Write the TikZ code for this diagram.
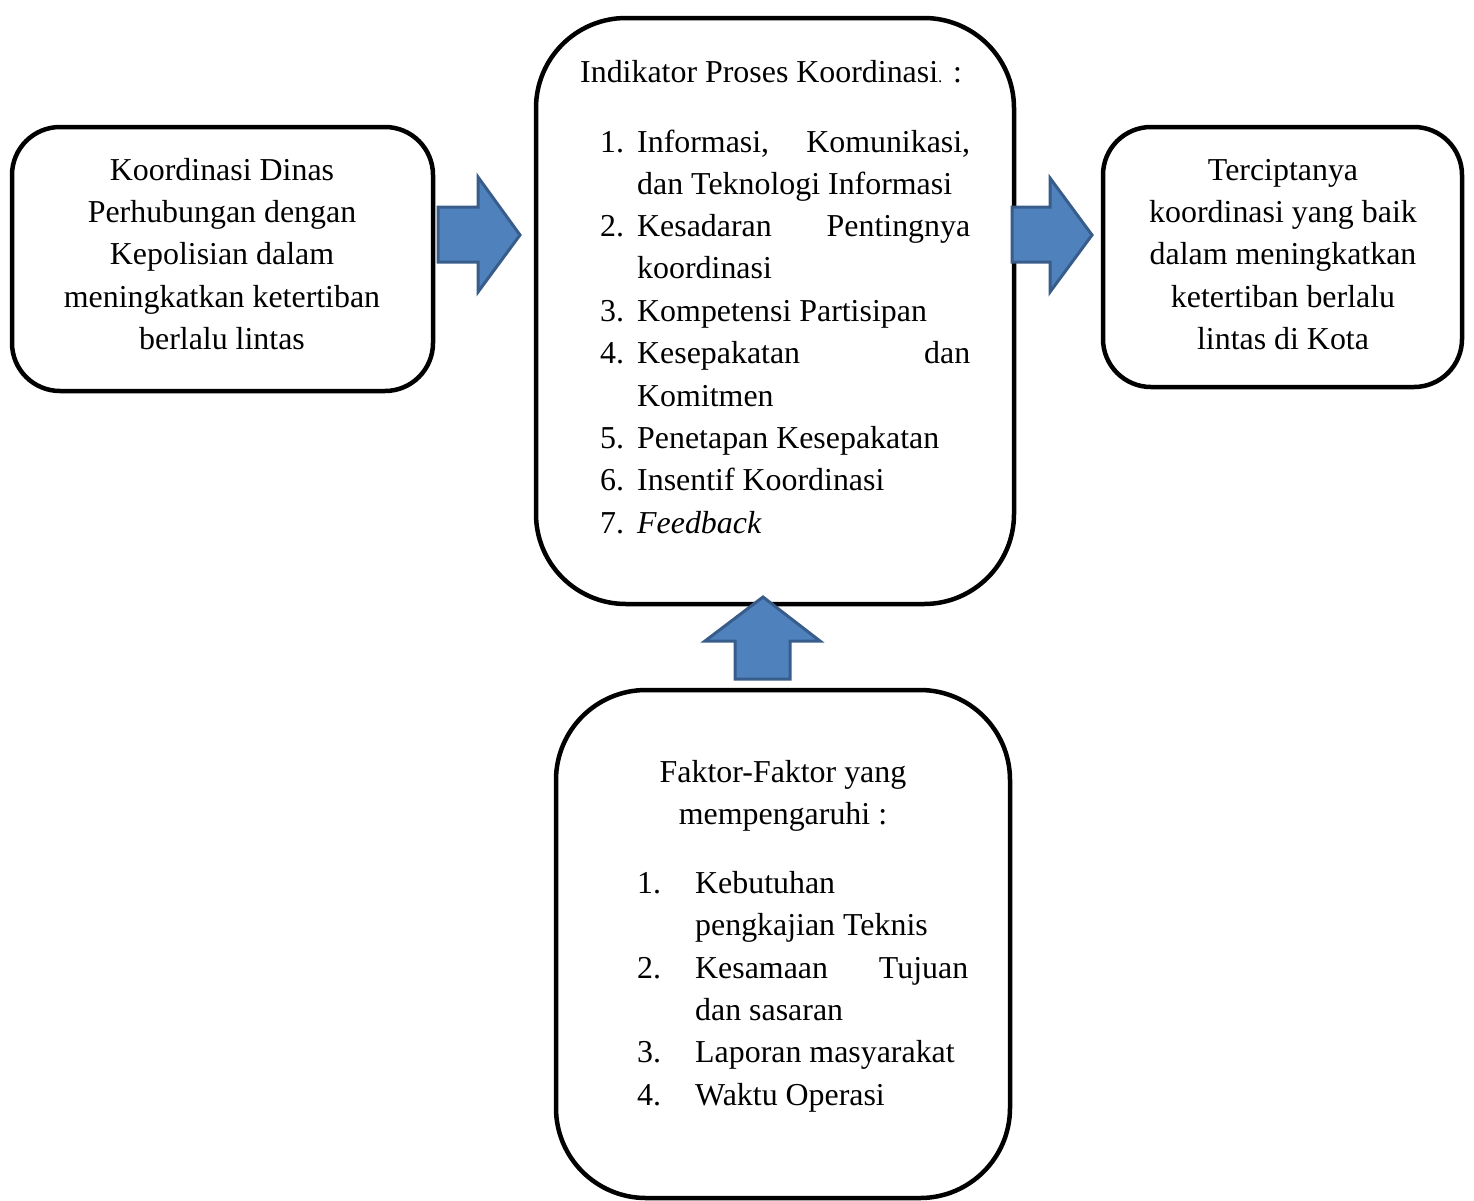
\documentclass[tikz,border=0pt]{standalone}
\usepackage{fontspec}
\setmainfont{Liberation Serif}
\begin{document}
\begin{tikzpicture}[x=1pt,y=-1pt,
  box/.style={draw=black,line width=4.5pt,inner sep=0pt,fill=white},
  txt/.style={inner sep=0pt,font=\fontsize{31.9}{42.3}\selectfont},
  blockarrow/.style={fill=arrowfill,draw=arrowline,line width=3pt,line join=miter}]
\definecolor{arrowfill}{HTML}{4F81BD}
\definecolor{arrowline}{HTML}{385D8A}
\useasboundingbox (0,0) rectangle (1474,1200);
% boxes
\node[box,rounded corners=48pt,minimum width=421pt,minimum height=264pt] (left) at (222.5,259) {};
\node[box,rounded corners=90pt,minimum width=478pt,minimum height=586pt] (mid) at (775,311) {};
\node[box,rounded corners=48pt,minimum width=359pt,minimum height=260pt] (right) at (1282.5,257) {};
\node[box,rounded corners=90pt,minimum width=454pt,minimum height=508pt] (bot) at (783,944) {};
% block arrows
\draw[blockarrow] (438,207) -- (478,207) -- (478,177) -- (520,235) -- (478,292) -- (478,262) -- (438,262) -- cycle;
\draw[blockarrow] (1012,207) -- (1050,207) -- (1050,178) -- (1092,235) -- (1050,292) -- (1050,262) -- (1012,262) -- cycle;
\draw[blockarrow] (735,679) -- (735,641) -- (705,641) -- (763,597) -- (820,641) -- (790,641) -- (790,679) -- cycle;
% left text
\node[txt,anchor=base] (l1) at (222,180) {Koordinasi Dinas};
\node[txt,anchor=base] (l2) at (222,222) {Perhubungan dengan};
\node[txt,anchor=base] (l3) at (222,264) {Kepolisian dalam};
\node[txt,anchor=base] (l4) at (222,307) {meningkatkan ketertiban};
\node[txt,anchor=base] (l5) at (222,349) {berlalu lintas};
% right text
\node[txt,anchor=base] (r1) at (1283,180) {Terciptanya};
\node[txt,anchor=base] (r2) at (1283,222) {koordinasi yang baik};
\node[txt,anchor=base] (r3) at (1283,264) {dalam meningkatkan};
\node[txt,anchor=base] (r4) at (1283,307) {ketertiban berlalu};
\node[txt,anchor=base] (r5) at (1283,349) {lintas di Kota};
% middle text
\node[txt,anchor=base west] (m0) at (580,82) {Indikator Proses Koordinasi{\fontsize{17}{17}\selectfont .} :};
\node[txt,anchor=base west] (n1) at (600,152) {1.};
\node[txt,anchor=base west] (m1) at (637,152) {\makebox[333pt][s]{Informasi,\hfill Komunikasi,}};
\node[txt,anchor=base west] (m1b) at (637,194) {dan Teknologi Informasi};
\node[txt,anchor=base west] (n2) at (600,236) {2.};
\node[txt,anchor=base west] (m2) at (637,236) {\makebox[333pt][s]{Kesadaran\hfill Pentingnya}};
\node[txt,anchor=base west] (m2b) at (637,278) {koordinasi};
\node[txt,anchor=base west] (n3) at (600,321) {3.};
\node[txt,anchor=base west] (m3) at (637,321) {Kompetensi Partisipan};
\node[txt,anchor=base west] (n4) at (600,363) {4.};
\node[txt,anchor=base west] (m4) at (637,363) {\makebox[333pt][s]{Kesepakatan\hfill dan}};
\node[txt,anchor=base west] (m4b) at (637,406) {Komitmen};
\node[txt,anchor=base west] (n5) at (600,448) {5.};
\node[txt,anchor=base west] (m5) at (637,448) {Penetapan Kesepakatan};
\node[txt,anchor=base west] (n6) at (600,490) {6.};
\node[txt,anchor=base west] (m6) at (637,490) {Insentif Koordinasi};
\node[txt,anchor=base west] (n7) at (600,533) {7.};
\node[txt,anchor=base west] (m7) at (637,533) {\textit{Feedback}};
% bottom text
\node[txt,anchor=base] (b0) at (783,782) {Faktor-Faktor yang};
\node[txt,anchor=base] (b0b) at (783,824) {mempengaruhi :};
\node[txt,anchor=base west] (k1) at (637,893) {1.};
\node[txt,anchor=base west] (b1) at (695,893) {Kebutuhan};
\node[txt,anchor=base west] (b1b) at (695,935) {pengkajian Teknis};
\node[txt,anchor=base west] (k2) at (637,978) {2.};
\node[txt,anchor=base west] (b2) at (695,978) {\makebox[273pt][s]{Kesamaan\hfill Tujuan}};
\node[txt,anchor=base west] (b2b) at (695,1020) {dan sasaran};
\node[txt,anchor=base west] (k3) at (637,1062) {3.};
\node[txt,anchor=base west] (b3) at (695,1062) {Laporan masyarakat};
\node[txt,anchor=base west] (k4) at (637,1105) {4.};
\node[txt,anchor=base west] (b4) at (695,1105) {Waktu Operasi};
\end{tikzpicture}
\end{document}
